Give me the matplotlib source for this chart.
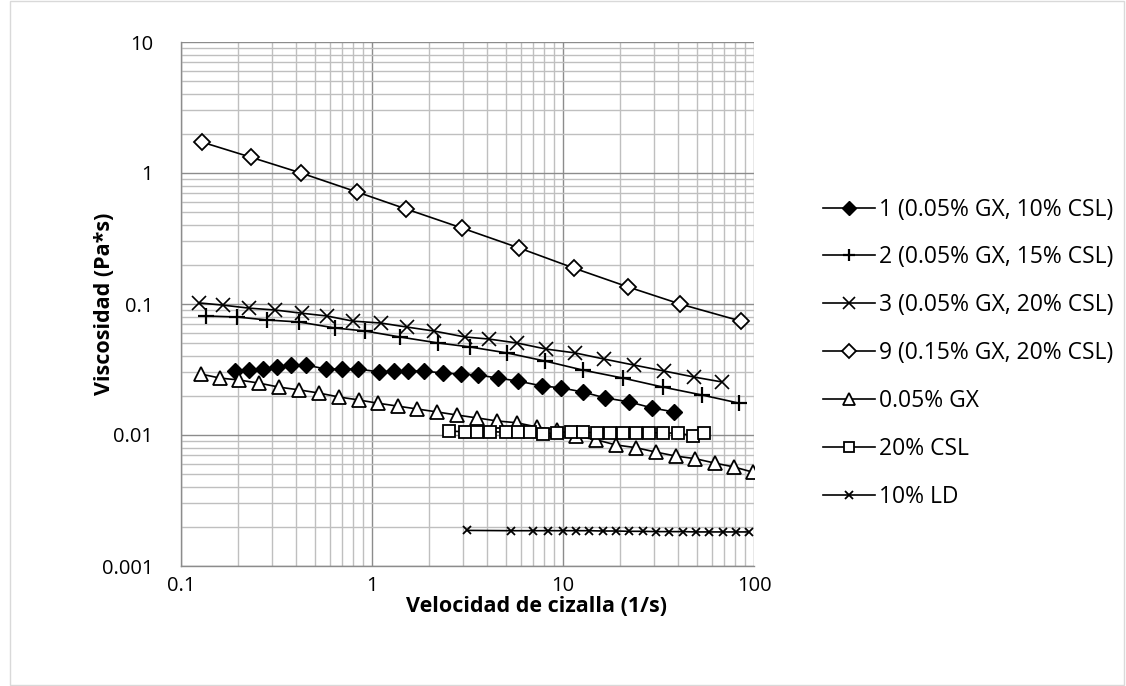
import matplotlib
matplotlib.use("Agg")
import matplotlib.pyplot as plt
from matplotlib.ticker import LogLocator, NullFormatter, FixedLocator, FixedFormatter
from matplotlib.patches import Rectangle

plt.rcParams['font.family'] = ['Open Sans', 'DejaVu Sans']

# Sample 1 (0.05% GX, 10% CSL)
x1 = [0.192, 0.227, 0.269, 0.318, 0.377, 0.451, 0.574, 0.697, 0.845, 1.09,
      1.30, 1.54, 1.87, 2.35, 2.92, 3.59, 4.57, 5.81, 7.76, 9.77,
      12.7, 16.6, 22.2, 29.2, 38.1]
y1 = [0.0308, 0.0313, 0.0319, 0.0331, 0.0342, 0.0342, 0.0319, 0.0319, 0.0319, 0.0303,
      0.0308, 0.0308, 0.0308, 0.0297, 0.0292, 0.0287, 0.0272, 0.0258, 0.0237, 0.0229,
      0.0213, 0.0192, 0.0179, 0.0161, 0.0150]

# Sample 2 (0.05% GX, 15% CSL)
x2 = [0.135, 0.196, 0.282, 0.415, 0.64, 0.92, 1.40, 2.22, 3.26, 5.09,
      8.05, 12.7, 20.6, 33.4, 53.4, 83.5]
y2 = [0.0810, 0.0796, 0.0755, 0.0729, 0.0656, 0.0622, 0.0560, 0.0504, 0.0470, 0.0423,
      0.0367, 0.0313, 0.0272, 0.0232, 0.0202, 0.0175]

# Sample 3 (0.05% GX, 20% CSL)
x3 = [0.124, 0.166, 0.227, 0.31, 0.43, 0.58, 0.795, 1.11, 1.52, 2.11,
      3.07, 4.10, 5.74, 8.15, 11.6, 16.4, 23.5, 33.8, 48.5, 68.0]
y3 = [0.102, 0.098, 0.093, 0.090, 0.085, 0.081, 0.074, 0.0716, 0.0667, 0.0622,
      0.056, 0.054, 0.0504, 0.0453, 0.0423, 0.038, 0.0342, 0.0308, 0.0277, 0.0254]

# Sample 9 (0.15% GX, 20% CSL)
x9 = [0.129, 0.232, 0.425, 0.835, 1.51, 2.96, 5.88, 11.4, 21.9, 41.0, 85.5]
y9 = [1.72, 1.32, 1.00, 0.716, 0.531, 0.38, 0.268, 0.188, 0.135, 0.100, 0.074]

# 0.05% GX
xgx = [0.127, 0.160, 0.201, 0.256, 0.326, 0.415, 0.528, 0.672, 0.855, 1.07,
       1.37, 1.72, 2.19, 2.79, 3.55, 4.51, 5.74, 7.31, 9.30, 11.7,
       14.9, 18.9, 24.1, 30.7, 39.1, 49.1, 62.5, 78.6, 98.8]
ygx = [0.0292, 0.0272, 0.0263, 0.0249, 0.0232, 0.0221, 0.0209, 0.0195, 0.0185, 0.0175,
       0.0166, 0.0158, 0.0150, 0.0142, 0.0135, 0.0128, 0.0124, 0.0115, 0.0109, 0.0098,
       0.0092, 0.0084, 0.0080, 0.0074, 0.0069, 0.0066, 0.0061, 0.0057, 0.0052]

# 20% CSL
xcsl = [2.53, 3.07, 3.55, 4.15, 5.03, 5.81, 6.72, 7.86, 9.30, 11.0,
        12.7, 15.1, 17.6, 20.6, 24.1, 28.2, 33.4, 40.0, 48.0, 54.7]
ycsl = [0.0107, 0.0106, 0.0106, 0.0106, 0.0105, 0.0106, 0.0105, 0.0102, 0.0104, 0.0106,
        0.0105, 0.0104, 0.0104, 0.0104, 0.0104, 0.0104, 0.0104, 0.0103, 0.0099, 0.0103]

# 10% LD
xld = [3.14, 5.34, 6.97, 8.35, 10.0, 11.7, 13.7, 16.2, 18.9, 22.2,
       26.2, 30.7, 35.9, 42.5, 49.7, 58.1, 68.8, 80.5, 94.2]
yld = [0.00187, 0.00186, 0.00186, 0.00186, 0.00186, 0.00186, 0.00186, 0.00185, 0.00185, 0.00184,
       0.00184, 0.00183, 0.00183, 0.00183, 0.00182, 0.00182, 0.00182, 0.00182, 0.00182]

labels = ["1 (0.05% GX, 10% CSL)", "2 (0.05% GX, 15% CSL)", "3 (0.05% GX, 20% CSL)",
          "9 (0.15% GX, 20% CSL)", "0.05% GX", "20% CSL", "10% LD"]
x_ticks = [0.1, 1, 10, 100]
x_tick_labels = ["0.1", "1", "10", "100"]
y_ticks = [0.001, 0.01, 0.1, 1, 10]
y_tick_labels = ["0.001", "0.01", "0.1", "1", "10"]

W, H = 1126, 686
fig = plt.figure(figsize=(W / 100, H / 100), dpi=100)
fig.patches.append(Rectangle((10 / W, 0.002), (W - 12) / W, 0.996, transform=fig.transFigure,
                             fill=False, edgecolor='#d9d9d9', linewidth=1))
ax = fig.add_axes([181 / W, 1 - 566 / H, (754 - 181) / W, (566 - 42) / H])
ax.set_xscale('log')
ax.set_yscale('log')
ax.set_xlim(0.1, 100)
ax.set_ylim(0.001, 10)

ax.xaxis.set_major_locator(FixedLocator(x_ticks))
ax.xaxis.set_major_formatter(FixedFormatter(x_tick_labels))
ax.yaxis.set_major_locator(FixedLocator(y_ticks))
ax.yaxis.set_major_formatter(FixedFormatter(y_tick_labels))
ax.xaxis.set_minor_locator(LogLocator(base=10, subs=range(2, 10), numticks=20))
ax.yaxis.set_minor_locator(LogLocator(base=10, subs=range(2, 10), numticks=20))
ax.xaxis.set_minor_formatter(NullFormatter())
ax.yaxis.set_minor_formatter(NullFormatter())

ax.grid(True, which='minor', color='#bfbfbf', linewidth=1.0)
ax.grid(True, which='major', color='#8c8c8c', linewidth=1.0)
ax.set_axisbelow(True)
ax.tick_params(which='both', length=0, labelsize=14.5, colors='black')
ax.tick_params(axis='y', pad=20)
ax.tick_params(axis='x', pad=7)
for side in ['top', 'right']:
    ax.spines[side].set_visible(False)
for side in ['left', 'bottom']:
    ax.spines[side].set_color('#8c8c8c')
    ax.spines[side].set_linewidth(1.0)

lw = 1.2
ax.plot(x1, y1, color='black', lw=lw, marker='D', ms=8, mfc='black', mec='black', label=labels[0])
ax.plot(x2, y2, color='black', lw=lw, marker='+', ms=11, mew=1.6, label=labels[1])
ax.plot(x3, y3, color='black', lw=lw, marker='x', ms=10, mew=1.2, label=labels[2])
ax.plot(x9, y9, color='black', lw=lw, marker='D', ms=8, mfc='white', mec='black', mew=1.3, label=labels[3])
ax.plot(xgx, ygx, color='black', lw=lw, marker='^', ms=10, mfc='white', mec='black', mew=1.3, label=labels[4])
ax.plot(xcsl, ycsl, color='black', lw=lw, marker='s', ms=8, mfc='white', mec='black', mew=1.3, label=labels[5])
ax.plot(xld, yld, color='black', lw=lw, marker='x', ms=6, mew=1.3, label=labels[6])

fig.text(537 / W, 1 - 606 / H, "Velocidad de cizalla (1/s)", fontsize=15.5, fontweight='bold',
         ha='center', va='center')
fig.text(105 / W, 1 - 304 / H, "Viscosidad (Pa*s)", fontsize=15.5, fontweight='bold',
         ha='center', va='center', rotation=90)

handles, labs = ax.get_legend_handles_labels()
leg = fig.legend(handles, labs, loc='upper left', bbox_to_anchor=(802 / W, 1 - 177 / H),
                 frameon=False, fontsize=16.5, handlelength=2.3, handletextpad=0.15,
                 labelspacing=1.04, markerscale=0.85)

fig.savefig("out.png", dpi=100)
